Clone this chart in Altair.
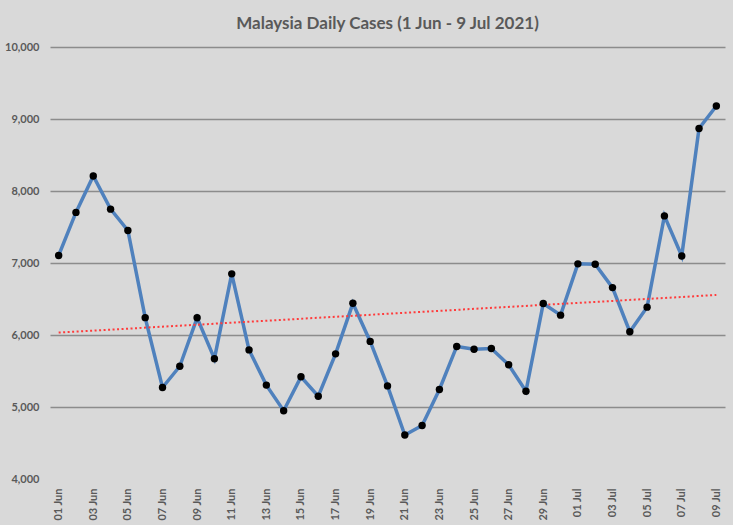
import altair as alt
import pandas as pd

dates = ["01 Jun", "02 Jun", "03 Jun", "04 Jun", "05 Jun", "06 Jun", "07 Jun", "08 Jun", "09 Jun", "10 Jun",
         "11 Jun", "12 Jun", "13 Jun", "14 Jun", "15 Jun", "16 Jun", "17 Jun", "18 Jun", "19 Jun", "20 Jun",
         "21 Jun", "22 Jun", "23 Jun", "24 Jun", "25 Jun", "26 Jun", "27 Jun", "28 Jun", "29 Jun", "30 Jun",
         "01 Jul", "02 Jul", "03 Jul", "04 Jul", "05 Jul", "06 Jul", "07 Jul", "08 Jul", "09 Jul"]
cases = [7105, 7703, 8209, 7748, 7452, 6241, 5271, 5566, 6239, 5671,
         6849, 5793, 5304, 4949, 5419, 5150, 5738, 6440, 5911, 5293,
         4611, 4743, 5244, 5841, 5803, 5812, 5586, 5218, 6437, 6276,
         6988, 6982, 6658, 6045, 6387, 7654, 7097, 8868, 9180]
y_ticks = [4000, 5000, 6000, 7000, 8000, 9000, 10000]

df = pd.DataFrame({"idx": list(range(len(dates))), "date": dates, "cases": cases})

label_arr = "[" + ",".join("'" + d + "'" for d in dates) + "]"
font = "Lato"
gray = "#595959"

x = alt.X("idx:Q",
          scale=alt.Scale(domain=[-0.5, len(dates) - 0.5], nice=False, zero=False),
          axis=alt.Axis(values=list(range(0, len(dates), 2)),
                        labelExpr=label_arr + "[datum.value]",
                        labelAngle=270, grid=False, domain=False, ticks=False,
                        labelPadding=9, labelFont=font, labelFontSize=11,
                        labelFontWeight="bold", labelColor=gray, title=None))
y = alt.Y("cases:Q",
          scale=alt.Scale(domain=[4000, 10000], nice=False, zero=False),
          axis=alt.Axis(values=y_ticks, format=",.0f", grid=True, gridColor="#8C8C8C",
                        gridWidth=1.3,
                        gridOpacity=alt.ExprRef("datum.value == 4000 ? 0 : 1"),
                        domain=False, ticks=False, labelPadding=11, labelFont=font,
                        labelFontSize=11, labelFontWeight="bold", labelColor=gray, title=None))

base = alt.Chart(df)
line = base.mark_line(color="#4F81BD", strokeWidth=3.5).encode(x=x, y=y)
pts = base.mark_circle(color="black", opacity=1, size=55).encode(x=x, y=y)
trend = base.transform_regression("idx", "cases", extent=[0, len(dates) - 1]).mark_line(
    color="#FF3B3B", strokeWidth=2, strokeDash=[2, 2.5]).encode(x=x, y=y)

chart = alt.layer(line, trend, pts).properties(
    width=675, height=432,
    autosize=alt.AutoSizeParams(type="none"),
    padding={"left": 50, "top": 47, "right": 8, "bottom": 46},
    background="#D9D9D9",
    title=alt.TitleParams("Malaysia Daily Cases (1 Jun - 9 Jul 2021)", anchor="middle",
                          font=font, fontSize=17, fontWeight="bold", color=gray, offset=8),
).configure_view(stroke=None)

chart.save("out.html", embed_options={"renderer": "svg", "actions": False})
